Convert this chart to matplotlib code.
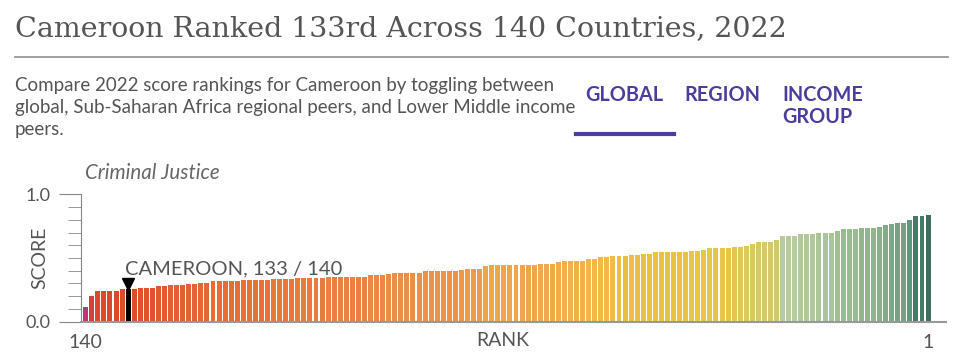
import matplotlib
matplotlib.use("Agg")
import matplotlib.pyplot as plt
from matplotlib.colors import LinearSegmentedColormap

# scores ordered from rank 140 (left) to rank 1 (right)
scores = (
    [0.113, 0.204, 0.241, 0.241, 0.241, 0.241, 0.254, 0.254, 0.254, 0.267,
     0.267, 0.267, 0.278, 0.278, 0.286, 0.286, 0.286, 0.296, 0.296, 0.306,
     0.306, 0.317, 0.317, 0.317, 0.317, 0.317, 0.325, 0.325, 0.325, 0.325,
     0.325, 0.333, 0.333, 0.333, 0.333, 0.343, 0.343, 0.343, 0.343, 0.343,
     0.353, 0.353, 0.353, 0.353, 0.353, 0.353, 0.353, 0.367, 0.367, 0.367,
     0.377, 0.385, 0.385, 0.385, 0.385, 0.385, 0.395, 0.395, 0.395, 0.395,
     0.395, 0.395, 0.406, 0.416, 0.416, 0.416, 0.437, 0.447, 0.447, 0.445,
     0.445, 0.445, 0.445, 0.445, 0.445, 0.455, 0.455, 0.455, 0.466, 0.476,
     0.476, 0.476, 0.476, 0.495, 0.495, 0.505, 0.505, 0.516, 0.516, 0.516,
     0.526, 0.526, 0.534, 0.534, 0.545, 0.545, 0.545, 0.545, 0.545, 0.545,
     0.555, 0.555, 0.566, 0.576, 0.576, 0.576, 0.576, 0.586, 0.586, 0.597,
     0.607, 0.623, 0.623, 0.623, 0.639, 0.675, 0.675, 0.675, 0.686, 0.686,
     0.686, 0.696, 0.696, 0.696, 0.712, 0.725, 0.725, 0.725, 0.736, 0.736,
     0.736, 0.746, 0.757, 0.767, 0.777, 0.777, 0.795, 0.827, 0.827, 0.838]
)
ranks = list(range(140, 0, -1))
country = "CAMEROON"
country_rank = 133
n_countries = 140

title = "Cameroon Ranked 133rd Across 140 Countries, 2022"
subtitle = ["Compare 2022 score rankings for Cameroon by toggling between",
            "global, Sub-Saharan Africa regional peers, and Lower Middle income",
            "peers."]
tabs = [["GLOBAL"], ["REGION"], ["INCOME", "GROUP"]]
pillar = "Criminal Justice"

W, H = 960, 364
fig = plt.figure(figsize=(W / 100, H / 100), dpi=100)
grey = "#555555"
purple = "#4b3c9e"

warm = LinearSegmentedColormap.from_list("warm", [
    (0.0, "#c3337c"), (0.12, "#cf3a4a"), (0.2, "#d9412b"), (0.28, "#df4d2d"),
    (0.38, "#e66c35"), (0.5, "#ec8c45"), (0.63, "#efa54b"), (0.72, "#f1b746"),
    (0.85, "#eac53f"), (0.93, "#dcc95a"), (1.0, "#d1c970")])
cool = LinearSegmentedColormap.from_list("cool", [
    (0.0, "#b6cc9e"), (0.3, "#9abb90"), (0.65, "#72a085"), (1.0, "#3f6e60")])


def bar_color(s):
    if s < 0.66:
        return warm((s - 0.11) / (0.64 - 0.11))
    return cool((s - 0.675) / (0.838 - 0.675))


colors = [bar_color(s) for s in scores]
idx = ranks.index(country_rank)
colors[idx] = "black"

# header
fig.text(15 / W, 1 - 29 / H, title, family="DejaVu Serif", fontsize=20.5,
         color=grey, va="center", ha="left")
fig.add_artist(plt.Line2D([15 / W, 948 / W], [1 - 57 / H] * 2, color="#999999", lw=1.3))
for k, line in enumerate(subtitle):
    fig.text(15 / W, 1 - (85 + 22 * k) / H, line, family="Lato", fontsize=13.5,
             color=grey, va="center", ha="left")
tab_x = [585, 684, 782]
for x, t in zip(tab_x, tabs):
    for j, line in enumerate(t):
        fig.text(x / W, 1 - (95 + 22 * j) / H, line, family="Lato", fontweight="bold",
                 fontsize=14.3, color=purple, va="center", ha="left")
fig.add_artist(plt.Line2D([576 / W, 674 / W], [1 - 134 / H] * 2, color=purple, lw=3))
fig.text(85 / W, 1 - 173 / H, pillar, family="Lato", style="italic", fontsize=14.8,
         color="#666666", va="center", ha="left")

# chart
ax = fig.add_axes([81 / W, 1 - 321.7 / H, (946 - 81) / W, (321.7 - 194.3) / H])
x = list(range(len(scores)))
ax.bar(x, scores, width=0.82, color=colors, linewidth=0)
ax.set_xlim(-0.78, 141.96)
ax.set_ylim(0, 1)
for s in ["top", "right"]:
    ax.spines[s].set_visible(False)
ax.spines["left"].set_color("#888888")
ax.spines["bottom"].set_color("#999999")
ax.spines["bottom"].set_linewidth(1.5)
ax.set_yticks([0, 1])
ax.set_yticklabels(["0.0", "1.0"])
ax.set_yticks([i / 10 for i in range(1, 10)], minor=True)
ax.tick_params(axis="y", which="major", length=16, color="#888888", labelsize=13,
               labelcolor=grey, pad=6)
ax.tick_params(axis="y", which="minor", length=9.5, color="#888888")
for lab in ax.get_yticklabels():
    lab.set_family("Lato")
ax.set_xticks([0, len(scores) - 1])
ax.set_xticklabels([str(ranks[0]), str(ranks[-1])])
ax.tick_params(axis="x", length=0, labelsize=14, labelcolor=grey, pad=9)
for lab in ax.get_xticklabels():
    lab.set_family("Lato")
fig.text(503 / W, 1 - 340 / H, "RANK", family="Lato", fontsize=14, color=grey,
         ha="center", va="center")
fig.text(40 / W, 1 - 258 / H, "SCORE", family="Lato", fontsize=14, color=grey,
         ha="center", va="center", rotation=90)

ax.plot([idx], [scores[idx] + 0.045], marker="v", color="black", markersize=8,
        clip_on=False)
ax.text(idx - 0.6, scores[idx] + 0.12, f"{country}, {country_rank} / {n_countries}",
        family="Lato", fontsize=14.5, color=grey, ha="left", va="baseline")

fig.savefig("out.png", dpi=100)
